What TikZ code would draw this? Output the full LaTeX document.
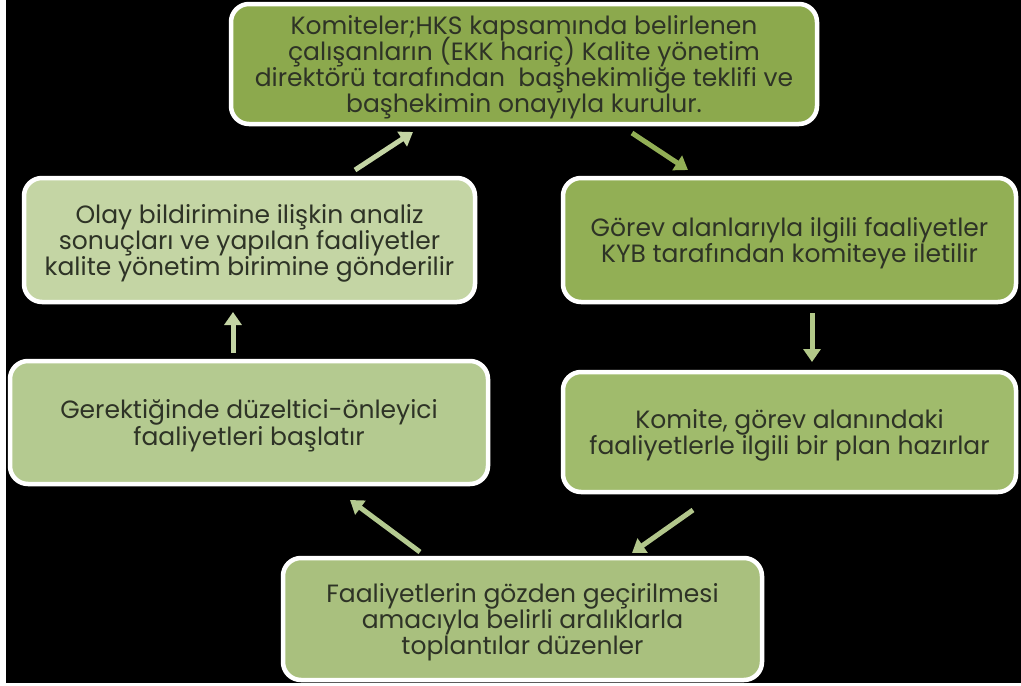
\documentclass[tikz,border=0pt]{standalone}
\usepackage{fontspec}
\setmainfont{Poppins}
\usetikzlibrary{arrows.meta}
\definecolor{bxtop}{HTML}{8CA94D}
\definecolor{bxolay}{HTML}{C4D5A4}
\definecolor{bxgorev}{HTML}{92AF55}
\definecolor{bxger}{HTML}{B4CA90}
\definecolor{bxkom}{HTML}{A0BB6C}
\definecolor{bxbot}{HTML}{A9C07E}
\definecolor{txt}{HTML}{2E3326}
\newcommand{\myboxfont}{\fontsize{25}{26.2}\selectfont\lineskiplimit=-30pt\relax}
\tikzset{
  box/.style={draw=white, line width=4.5pt, rounded corners=18pt, align=center,
    text=txt, font=\myboxfont, inner sep=0pt, text depth=-3pt},
  flow/.style={line width=5pt, -{Triangle[width=17pt,length=13pt]}},
}
\begin{document}
\begin{tikzpicture}[x=1pt,y=-1pt]
\useasboundingbox (0,0) rectangle (1021,686);
\fill[white] (0,0) rectangle (1021,686);
\fill[black] (6,0) rectangle (1021,683);
\node[box, fill=bxtop, minimum width=586pt, minimum height=120pt] (top) at (524,64)
 {Komiteler;HKS kapsamında belirlenen\\ çalışanların (EKK hariç) Kalite yönetim\\ direktörü tarafından\ \ başhekimliğe teklifi ve\\ başhekimin onayıyla kurulur.};
\node[box, fill=bxolay, minimum width=451pt, minimum height=124pt] (olay) at (249.5,240)
 {Olay bildirimine ilişkin analiz\\ sonuçları ve yapılan faaliyetler\\ kalite yönetim birimine gönderilir};
\node[box, fill=bxgorev, minimum width=453pt, minimum height=124pt] (gorev) at (789.5,240)
 {Görev alanlarıyla ilgili faaliyetler\\ KYB tarafından komiteye iletilir};
\node[box, fill=bxger, minimum width=478pt, minimum height=123pt] (ger) at (249,422.5)
 {Gerektiğinde düzeltici-önleyici\\ faaliyetleri başlatır};
\node[box, fill=bxkom, minimum width=453pt, minimum height=120pt] (kom) at (789.5,432)
 {Komite, görev alanındaki\\ faaliyetlerle ilgili bir plan hazırlar};
\node[box, fill=bxbot, minimum width=479pt, minimum height=122pt] (bot) at (522.5,619)
 {Faaliyetlerin gözden geçirilmesi\\ amacıyla belirli aralıklarla\\ toplantılar düzenler};
\coordinate (a1s) at (355,170); \coordinate (a1e) at (413,132);
\coordinate (a2s) at (632,133); \coordinate (a2e) at (688,170);
\coordinate (a3s) at (812,313); \coordinate (a3e) at (812,362);
\coordinate (a4s) at (693,510); \coordinate (a4e) at (632,553);
\coordinate (a5s) at (420,552); \coordinate (a5e) at (350,500);
\coordinate (a6s) at (233,353); \coordinate (a6e) at (233,312);
\draw[flow, draw=bxolay, fill=bxolay] (a1s) -- (a1e);
\draw[flow, draw=bxgorev, fill=bxgorev] (a2s) -- (a2e);
\draw[flow, draw=bxkom!80!white, fill=bxkom!80!white] (a3s) -- (a3e);
\draw[flow, draw=bxbot!90!white, fill=bxbot!90!white] (a4s) -- (a4e);
\draw[flow, draw=bxger, fill=bxger] (a5s) -- (a5e);
\draw[flow, draw=bxolay, fill=bxolay] (a6s) -- (a6e);
\end{tikzpicture}
\end{document}
